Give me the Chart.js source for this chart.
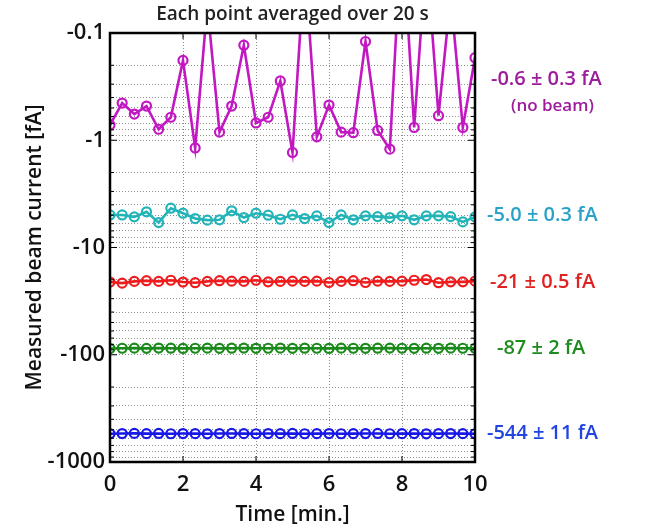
<!DOCTYPE html>
<html>
<head>
<meta charset="utf-8">
<script src="https://cdn.jsdelivr.net/npm/chart.js@4/dist/chart.umd.min.js"></script>
<style>
  body { margin: 0; background: #fff; }
  #wrap { width: 650px; height: 528px; position: relative; }
</style>
</head>
<body>
<div id="wrap"><canvas id="myChart"></canvas></div>
<script>
// time axis: one point every 20 s over 10 min
var timeMin = [];
for (var i = 0; i <= 30; i++) { timeMin.push(i / 3); }

// measured currents [fA] (negative values, log axis shows magnitude)
var noBeam = [-0.72, -0.45, -0.57, -0.48, -0.79, -0.61, -0.18, -1.18, -0.055, -0.84,
              -0.48, -0.13, -0.69, -0.61, -0.28, -1.30, -0.022, -0.93, -0.47, -0.84,
              -0.85, -0.12, -0.81, -1.21, -0.01, -0.76, -0.018, -0.59, -0.045, -0.76, -0.17];
var beam5 = [-4.97, -4.97, -5.18, -4.65, -5.86, -4.30, -4.79, -5.37, -5.56, -5.52,
             -4.55, -5.26, -4.79, -5.00, -5.45, -4.96, -5.37, -5.07, -5.86, -4.96,
             -5.52, -5.07, -5.15, -5.26, -5.07, -5.52, -5.07, -5.07, -5.15, -5.77, -5.18];
var beam21 = [-21.0, -21.5, -20.7, -20.4, -20.7, -20.2, -21.0, -21.3, -20.7, -20.4,
              -20.6, -20.7, -20.2, -20.9, -20.7, -20.6, -20.7, -20.6, -21.2, -20.7,
              -20.4, -21.2, -20.6, -20.7, -20.6, -20.2, -19.9, -21.3, -20.9, -20.9, -20.6];
var beam87 = [-87.5, -87.0, -86.8, -87.2, -86.6, -86.9, -87.3, -87.0, -86.8, -87.2,
              -86.9, -86.7, -87.1, -87.0, -86.8, -87.2, -86.9, -87.0, -87.3, -86.8,
              -87.0, -87.1, -86.9, -86.7, -87.0, -87.2, -86.9, -87.1, -86.8, -87.0, -87.2];
var beam544 = [-545, -543, -541, -544, -542, -545, -543, -544, -546, -543,
               -542, -544, -545, -543, -544, -542, -545, -544, -543, -545,
               -544, -543, -542, -545, -544, -543, -546, -544, -543, -544, -545];

var seriesColors = ['#c218c2', '#22b4b8', '#ee1c1c', '#1a8a1a', '#1818e6'];
var labelColors = ['#9c1c9c', '#2aa2c8', '#e02222', '#1c8c1c', '#2244e0'];
var labelTexts = ['-0.6 \u00b1 0.3 fA', '-5.0 \u00b1 0.3 fA', '-21 \u00b1 0.5 fA', '-87 \u00b1 2 fA', '-544 \u00b1 11 fA'];
var labelAt = [-0.27, -5.0, -21, -87, -544];
var labelShift = [16, 12, 15, 22, 12];
var yTickValues = [0.1, 1, 10, 100, 1000];
var titleText = 'Each point averaged over 20 s';

var fontName = "'Open Sans', 'DejaVu Sans', sans-serif";

function makeSet(vals, color) {
    var pts = [];
    for (var i = 0; i < vals.length; i++) {
        pts.push({ x: timeMin[i], y: -vals[i] });
    }
    return {
        data: pts,
        borderColor: color,
        backgroundColor: 'rgba(255,255,255,0)',
        borderWidth: 2.6,
        pointRadius: 4.5,
        pointBorderWidth: 2.2,
        pointBorderColor: color,
        pointBackgroundColor: 'rgba(255,255,255,0)',
        clip: 0,
        tension: 0
    };
}

// title, box, inward ticks and side labels
var boxPlugin = {
    id: 'box',
    afterDatasetsDraw: function (chart) {
        var ctx = chart.ctx;
        var a = chart.chartArea;
        var ys = chart.scales.y;
        var xs = chart.scales.x;
        ctx.save();
        ctx.strokeStyle = '#000';
        ctx.lineWidth = 1;
        ys.ticks.forEach(function (t) {
            var p = ys.getPixelForValue(t.value);
            var major = yTickValues.indexOf(t.value) >= 0;
            var len = major ? 7 : 4;
            ctx.beginPath();
            ctx.moveTo(a.left, p); ctx.lineTo(a.left + len, p);
            ctx.moveTo(a.right, p); ctx.lineTo(a.right - len, p);
            ctx.stroke();
        });
        xs.ticks.forEach(function (t) {
            var p = xs.getPixelForValue(t.value);
            ctx.beginPath();
            ctx.moveTo(p, a.bottom); ctx.lineTo(p, a.bottom - 6);
            ctx.moveTo(p, a.top); ctx.lineTo(p, a.top + 6);
            ctx.stroke();
        });
        ctx.lineWidth = 2.5;
        ctx.strokeRect(a.left, a.top, a.right - a.left, a.bottom - a.top);

        ctx.textAlign = 'center';
        ctx.textBaseline = 'middle';
        ctx.fillStyle = '#222';
        ctx.font = '600 19px ' + fontName;
        ctx.fillText(titleText, (a.left + a.right) / 2, 15);

        ctx.textAlign = 'left';
        ctx.font = '600 20px ' + fontName;
        for (var i = 0; i < labelTexts.length; i++) {
            var y = ys.getPixelForValue(-labelAt[i]);
            ctx.fillStyle = labelColors[i];
            ctx.fillText(labelTexts[i], a.right + labelShift[i], y);
        }
        ctx.font = '600 17px ' + fontName;
        ctx.fillStyle = labelColors[0];
        ctx.fillText('(no beam)', a.right + 36, ys.getPixelForValue(-labelAt[0]) + 27);
        ctx.restore();
    }
};

const ctx = document.getElementById('myChart').getContext('2d');
const chart = new Chart(ctx, {
    type: 'line',
    data: {
        datasets: [
            makeSet(noBeam, seriesColors[0]),
            makeSet(beam5, seriesColors[1]),
            makeSet(beam21, seriesColors[2]),
            makeSet(beam87, seriesColors[3]),
            makeSet(beam544, seriesColors[4])
        ]
    },
    options: {
        responsive: true,
        maintainAspectRatio: false,
        animation: false,
        layout: { padding: { left: 0, right: 175, top: 33, bottom: 0 } },
        plugins: {
            legend: { display: false },
            tooltip: { enabled: false },
            title: { display: false }
        },
        scales: {
            x: {
                type: 'linear',
                min: 0,
                max: 10,
                border: { display: false, dash: [1, 2] },
                grid: {
                    color: function (c) {
                        return (c.tick.value === 0 || c.tick.value === 10) ? 'rgba(0,0,0,0)' : '#8a8a8a';
                    },
                    drawTicks: false
                },
                ticks: {
                    stepSize: 2,
                    padding: 10,
                    color: '#111',
                    font: { family: fontName, size: 22, weight: '600' }
                },
                title: {
                    display: true,
                    text: 'Time [min.]',
                    color: '#111',
                    padding: { top: -2, bottom: 0 },
                    font: { family: fontName, size: 21, weight: '600' }
                },
                afterFit: function (s) { s.height = 66; }
            },
            y: {
                type: 'logarithmic',
                reverse: true,
                min: 0.1,
                max: 1000,
                border: { display: false, dash: [1, 2] },
                grid: {
                    color: function (c) {
                        var v = c.tick.value;
                        return (v === 0.1 || v === 1000) ? 'rgba(0,0,0,0)' : '#909090';
                    },
                    drawTicks: false
                },
                afterBuildTicks: function (s) {
                    var t = [];
                    for (var d = 0; d < 4; d++) {
                        for (var m = 1; m <= 9; m++) {
                            t.push({ value: parseFloat((m * Math.pow(10, d - 1)).toPrecision(3)) });
                        }
                    }
                    t.push({ value: 1000 });
                    s.ticks = t;
                },
                ticks: {
                    autoSkip: false,
                    padding: 5,
                    color: '#111',
                    font: { family: fontName, size: 22, weight: '600' },
                    callback: function (v) {
                        return yTickValues.indexOf(v) >= 0 ? '-' + v : '';
                    }
                },
                title: {
                    display: true,
                    text: 'Measured beam current [fA]',
                    color: '#111',
                    padding: { top: 22, bottom: 0 },
                    font: { family: fontName, size: 21, weight: '600' }
                },
                afterFit: function (s) { s.width = 110; }
            }
        }
    },
    plugins: [boxPlugin]
});
</script>
</body>
</html>
